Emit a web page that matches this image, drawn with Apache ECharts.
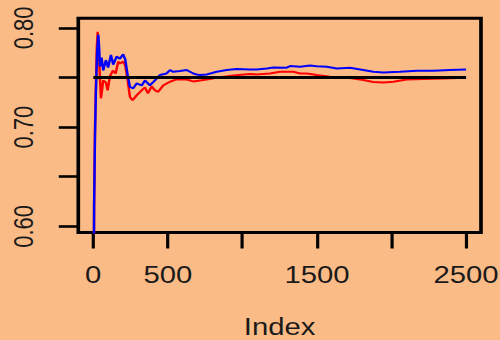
<!DOCTYPE html>
<html><head><meta charset="utf-8">
<script src="https://cdn.jsdelivr.net/npm/echarts@6/dist/echarts.min.js"></script>
<style>
html,body{margin:0;padding:0;background:#FABB86;overflow:hidden;width:500px;height:340px}
#c{width:410px;height:340px;transform:scaleX(1.219512);transform-origin:0 0;}
</style></head><body><div id="c"></div>
<script>
// ---- data ----
const xTicks = [0, 500, 1000, 1500, 2000, 2500];
const xLabels = [0, 500, 1500, 2500];
const yTicks = [0.60, 0.65, 0.70, 0.75, 0.80];
const yLabels = [0.60, 0.70, 0.80];
const refLevel = 0.75;
const refRange = [1, 2500];

const blueIndex = [1,3,6,12,18,26,34,40,45,56,67,85,100,119,134,157,179,201,215,231,246,268,291,325,347,380,414,447,492,515,537,582,627,671,694,716,761,828,895,962,1051,1096,1163,1207,1297,1320,1387,1454,1499,1566,1633,1722,1811,1878,1945,2057,2169,2281,2393,2500];
const blueValue = [0.0,0.5,0.62,0.69,0.735,0.775,0.793,0.78,0.761,0.770,0.757,0.7675,0.760,0.7726,0.763,0.771,0.769,0.7733,0.768,0.7524,0.7406,0.739,0.744,0.742,0.747,0.742,0.747,0.7524,0.754,0.7575,0.7557,0.7565,0.7575,0.754,0.753,0.7524,0.753,0.7557,0.7575,0.7585,0.758,0.758,0.759,0.760,0.7598,0.7615,0.7608,0.762,0.7612,0.7608,0.759,0.7598,0.7575,0.7557,0.755,0.7557,0.7568,0.7568,0.7575,0.758];

const redIndex = [1,3,6,12,18,24,30,38,45,52,60,67,85,97,112,132,150,168,179,201,215,231,246,264,291,325,347,367,392,414,436,470,515,559,627,671,716,761,828,939,1051,1096,1185,1252,1342,1387,1432,1499,1588,1700,1811,1878,1945,2012,2102,2214,2348,2500];
const redValue = [0.0,0.5,0.62,0.70,0.74,0.78,0.796,0.775,0.750,0.729,0.738,0.747,0.745,0.737,0.751,0.757,0.754,0.766,0.764,0.766,0.762,0.747,0.7306,0.727,0.732,0.737,0.740,0.734,0.741,0.737,0.7356,0.742,0.7457,0.748,0.748,0.746,0.747,0.748,0.7497,0.752,0.7535,0.753,0.754,0.7557,0.7557,0.754,0.754,0.7524,0.7507,0.7500,0.7474,0.7455,0.745,0.7457,0.748,0.7484,0.749,0.7497];

// ---- chart ----
const zip = (a, b) => a.map((v, i) => [v, b[i]]);
const FONT = "'Liberation Sans', Arial, sans-serif";
const chart = echarts.init(document.getElementById('c'), null, {renderer: 'svg'});
chart.setOption({
  animation: false,
  backgroundColor: '#FABB86',
  grid: {left: 64.2, right: 15.6, top: 18.3, bottom: 107.5, show: true,
         borderColor: '#000', borderWidth: 3, backgroundColor: 'transparent',
         containLabel: false, outerBoundsMode: 'none'},
  xAxis: {
    type: 'value', min: -100, max: 2600,
    name: 'Index', nameLocation: 'middle', nameGap: 82,
    nameTextStyle: {fontFamily: FONT, fontSize: 24, color: '#1a1a1a'},
    axisLine: {show: false, onZero: false},
    splitLine: {show: false},
    axisTick: {show: true, inside: false, length: 16, customValues: xTicks, lineStyle: {color: '#000', width: 2.6}},
    axisLabel: {customValues: xLabels, margin: 30, fontFamily: FONT, fontSize: 24, color: '#1a1a1a',
                formatter: v => String(Math.round(v))}
  },
  yAxis: {
    type: 'value', min: 0.5938, max: 0.8096,
    axisLine: {show: false, onZero: false},
    splitLine: {show: false},
    axisTick: {show: true, inside: false, length: 16, customValues: yTicks, lineStyle: {color: '#000', width: 2.6}},
    axisLabel: {customValues: yLabels, rotate: 90, margin: 34, fontFamily: FONT, fontSize: 22, color: '#1a1a1a',
                formatter: v => Number(v).toFixed(2)}
  },
  series: [
    {type: 'line', data: zip(redIndex, redValue), showSymbol: false, symbol: 'none',
     lineStyle: {color: '#ff0000', width: 2}, z: 2},
    {type: 'line', data: zip(blueIndex, blueValue), showSymbol: false, symbol: 'none',
     lineStyle: {color: '#0000ff', width: 2}, z: 3},
    {type: 'line', data: refRange.map(x => [x, refLevel]), showSymbol: false, symbol: 'none',
     lineStyle: {color: '#000', width: 3}, z: 4}
  ]
});
</script></body></html>
